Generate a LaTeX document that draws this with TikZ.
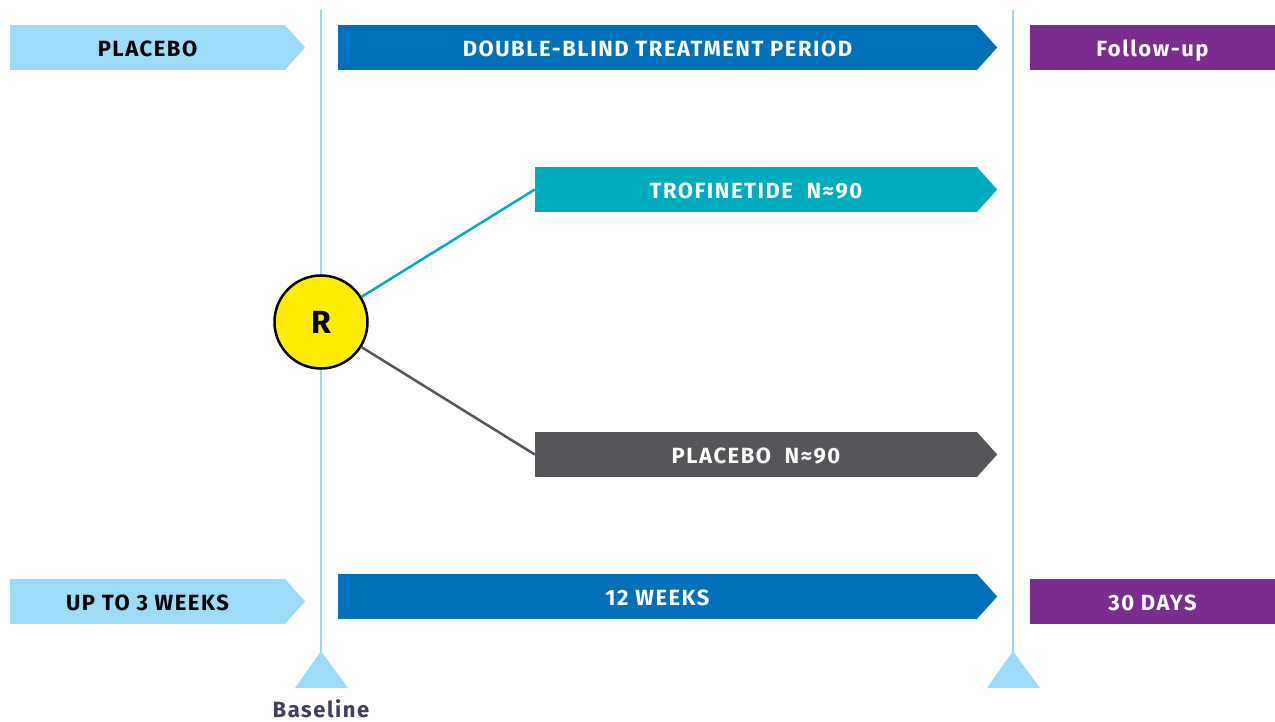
\documentclass[tikz,border=0pt]{standalone}
\usepackage{fontspec}
\setmainfont{Fira Sans}[LetterSpace=7]
\usetikzlibrary{calc}
\definecolor{LightClr}{HTML}{9DDCF9}
\definecolor{BlueClr}{HTML}{0071B9}
\definecolor{PurpleClr}{HTML}{7A2D8F}
\definecolor{TealClr}{HTML}{00ABBD}
\definecolor{GreyClr}{HTML}{55565A}
\definecolor{LineClr}{HTML}{A8D5E8}
\definecolor{RClr}{HTML}{FFED00}
\definecolor{NavyClr}{HTML}{3F3D60}
\newcommand\bartip[2]{\fill[#2] ($(#1.north east)+(-0.5,0)$) -- ($(#1.east)+(20,0)$) -- ($(#1.south east)+(-0.5,0)$) -- cycle;}

\begin{document}
\begin{tikzpicture}[x=1pt,y=-1pt,
  bar/.style={rectangle,minimum height=45pt,inner sep=0pt,text=white,
    text height=18pt,text depth=0pt,
    font=\fontsize{22}{22}\selectfont\bfseries}]
\useasboundingbox (0,0) rectangle (1275,722);

% time lines
\draw[LineClr,line width=1.5pt] (321,10) -- (321,652);
\draw[LineClr,line width=1.5pt] (1013,10) -- (1013,652);
\fill[LightClr] (295,688) -- (321,651) -- (348,688) -- cycle;
\fill[LightClr] (987,688) -- (1013,651) -- (1040,688) -- cycle;
\node[font=\fontsize{22}{22}\selectfont\bfseries,text=NavyClr,anchor=base,inner sep=0pt] (base) at (321,717) {Baseline};

% top row
\node[bar,fill=LightClr,text=black,minimum width=275pt] (placeboT) at (147.5,47.5) {PLACEBO};
\bartip{placeboT}{LightClr}
\node[bar,fill=BlueClr,minimum width=639pt] (blindT) at (657.5,47.5) {DOUBLE-BLIND TREATMENT PERIOD};
\bartip{blindT}{BlueClr}
\node[bar,fill=PurpleClr,minimum width=245pt] (followT) at (1152.5,47.5) {Follow-up};

% arms
\node[bar,fill=TealClr,minimum width=442pt] (trof) at (756,189.5) {TROFINETIDE\ \ N≈90};
\bartip{trof}{TealClr}
\node[bar,fill=GreyClr,minimum width=442pt] (placeboA) at (756,454.5) {PLACEBO\ \ N≈90};
\bartip{placeboA}{GreyClr}

\node[circle,draw=black,fill=RClr,line width=2.5pt,minimum size=93pt,inner sep=0pt,
  font=\fontsize{32}{32}\selectfont\bfseries] (R) at (321,322) {R};
\draw[TealClr,line width=2.5pt] (R) -- (trof.west);
\draw[GreyClr,line width=2.5pt] (R) -- (placeboA.west);

% bottom row
\node[bar,fill=LightClr,text=black,minimum width=275pt] (weeksUp) at (147.5,601.5) {UP TO 3 WEEKS};
\bartip{weeksUp}{LightClr}
\node[bar,fill=BlueClr,minimum width=639pt] (weeks12) at (657.5,596.5) {12 WEEKS};
\bartip{weeks12}{BlueClr}
\node[bar,fill=PurpleClr,minimum width=245pt] (daysF) at (1152.5,601.5) {30 DAYS};

\end{tikzpicture}
\end{document}
